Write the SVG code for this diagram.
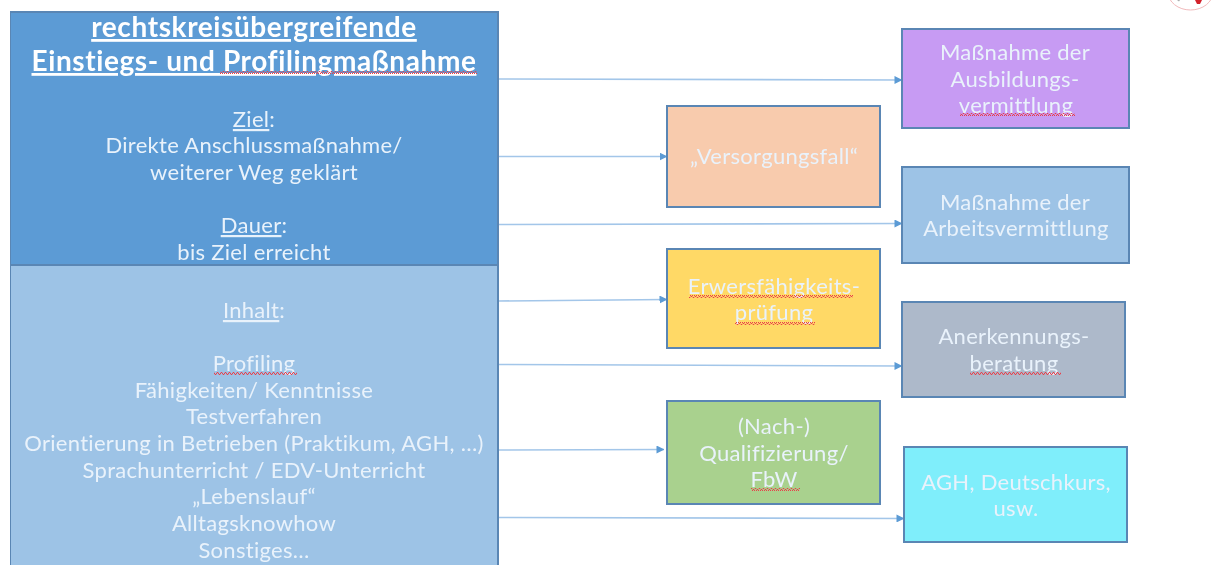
<svg xmlns="http://www.w3.org/2000/svg" width="1215" height="565" viewBox="0 0 1215 565">
<style>
text{font-family:Lato,"Open Sans","Liberation Sans",sans-serif;font-size:22px;letter-spacing:.3px;font-variant-ligatures:none;fill:#e9f2fb;text-anchor:middle}
.title{font-size:28px;letter-spacing:.6px;font-weight:700;fill:#fff;text-decoration:underline}
.box{stroke:#5a86b4;stroke-width:2}
.u{text-decoration:underline}
.conn{fill:none;stroke:#a3c6e9;stroke-width:1.6;marker-end:url(#arrow)}
.sq{fill:url(#squiggle)}
</style>
<defs>
<marker id="arrow" viewBox="0 0 8 8" refX="7.5" refY="4" markerWidth="8" markerHeight="8" markerUnits="userSpaceOnUse" orient="auto"><path d="M0 0L8 4L0 8Z" fill="#5b9bd5"/></marker>
<pattern id="squiggle" width="4" height="3" patternUnits="userSpaceOnUse"><path d="M0 2.500L1 .5L2 .5L3 2.500L4 2.500" fill="none" stroke="#e8404c" stroke-width="1"/></pattern>
<filter id="soft" x="0" y="0" width="100%" height="100%"><feGaussianBlur stdDeviation="0.45"/></filter>
</defs>
<rect width="1215" height="565" fill="#fff"/>
<g filter="url(#soft)">
<g id="logo"><path d="M1168 -8A22.500 18 0 0 0 1213 -8" fill="none" stroke="#f0b9bb" stroke-width="1"/><path d="M1195 0H1202L1200 4H1197Z" fill="#d3202c"/><path d="M1177 0H1180L1179 1.500Z" fill="#aaa"/></g>
<g id="connectors">
<path class="conn" d="M498 79L902 80"/>
<path class="conn" d="M498 156.500L667 156.500"/>
<path class="conn" d="M498 224.500L902 223.500"/>
<path class="conn" d="M498 301L667 299.500"/>
<path class="conn" d="M498 364.500L902 366"/>
<path class="conn" d="M498 450L664 449.500"/>
<path class="conn" d="M498 517.500L904 518.500"/>
</g>
<g id="node-einstieg">
<rect class="box" x="10" y="12" width="488" height="253" fill="#5b9bd5"/>
<text class="title" x="254" y="37">rechtskreisübergreifende</text>
<text class="title" x="254" y="71">Einstiegs- und Profilingmaßnahme</text>
<rect class="sq" x="220" y="71" width="257" height="3"/>
<text x="254" y="127"><tspan class="u">Ziel</tspan>:</text>
<text x="254" y="153">Direkte Anschlussmaßnahme/</text>
<text x="254" y="180">weiterer Weg geklärt</text>
<text x="254" y="233"><tspan class="u">Dauer</tspan>:</text>
<text x="254" y="260">bis Ziel erreicht</text>
</g>
<g id="node-inhalt">
<rect class="box" x="10" y="265" width="488" height="310" fill="#9dc3e6"/>
<text x="254" y="318"><tspan class="u">Inhalt</tspan>:</text>
<text x="254" y="371">Profiling</text>
<rect class="sq" x="214" y="372" width="83" height="3"/>
<text x="254" y="398">Fähigkeiten/ Kenntnisse</text>
<text x="254" y="424">Testverfahren</text>
<text x="254" y="451">Orientierung in Betrieben (Praktikum, AGH, …)</text>
<text x="254" y="478">Sprachunterricht / EDV-Unterricht</text>
<text x="254" y="504">„Lebenslauf“</text>
<text x="254" y="531">Alltagsknowhow</text>
<text x="254" y="558">Sonstiges…</text>
</g>
<g id="node-ausbildung">
<rect class="box" x="902" y="29" width="227" height="99" fill="#c79bf3"/>
<text x="1015" y="60">Maßnahme der</text>
<text x="1015" y="87">Ausbildungs-</text>
<text x="1016" y="113">vermittlung</text>
<rect class="sq" x="960" y="113" width="115" height="3"/>
</g>
<g id="node-versorgung">
<rect class="box" x="667" y="106" width="213" height="101" fill="#f8cbad"/>
<text x="774" y="164">„Versorgungsfall“</text>
</g>
<g id="node-arbeit">
<rect class="box" x="902" y="167" width="227" height="96" fill="#9dc3e6"/>
<text x="1015" y="210">Maßnahme der</text>
<text x="1016" y="236">Arbeitsvermittlung</text>
</g>
<g id="node-erwerb">
<rect class="box" x="667" y="249" width="213" height="99" fill="#ffd966"/>
<text x="774" y="294">Erwersfähigkeits-</text>
<rect class="sq" x="689" y="295" width="164" height="3"/>
<text x="774" y="320">prüfung</text>
<rect class="sq" x="735" y="322" width="80" height="3"/>
</g>
<g id="node-anerkennung">
<rect class="box" x="902" y="302" width="223" height="95" fill="#adb9ca"/>
<text x="1014" y="344">Anerkennungs-</text>
<text x="1014" y="371">beratung</text>
<rect class="sq" x="970" y="372" width="91" height="3"/>
</g>
<g id="node-qualifizierung">
<rect class="box" x="667" y="401" width="213" height="103" fill="#a9d18e"/>
<text x="774" y="434">(Nach-)</text>
<text x="774" y="461">Qualifizierung/</text>
<text x="774" y="487">FbW</text>
<rect class="sq" x="751" y="488" width="49" height="3"/>
</g>
<g id="node-agh">
<rect class="box" x="904" y="447" width="223" height="95" fill="#7feefb"/>
<text x="1016" y="490">AGH, Deutschkurs,</text>
<text x="1016" y="516">usw.</text>
</g>
</g>
</svg>
